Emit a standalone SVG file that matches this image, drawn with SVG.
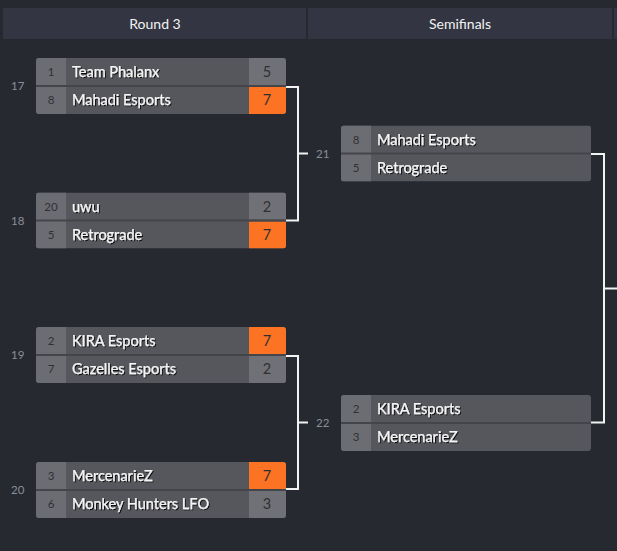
<svg xmlns="http://www.w3.org/2000/svg" width="617" height="551" viewBox="0 0 617 551">
<style>
.hdr{fill:#333642}
.hdrt{font-family:Lato,"Liberation Sans",sans-serif;font-size:14px;fill:#f2f2f2;text-anchor:middle}
.row{fill:#56575d}
.sep{fill:#44454b}
.seedc{fill:#6c6d73}
.sc{fill:#707177}
.win{fill:#fb7323}
.seed{font-family:Lato,"Liberation Sans",sans-serif;font-size:11.5px;fill:#2f3035;text-anchor:middle}
.name{font-family:Lato,"Liberation Sans",sans-serif;font-size:14.5px;fill:#f4f4f4;stroke:#f4f4f4;stroke-width:0.25;filter:url(#sh)}
.score{font-family:Lato,"Liberation Sans",sans-serif;font-size:14.5px;fill:#2e2f34;text-anchor:middle}
.lbl{font-family:Lato,"Liberation Sans",sans-serif;font-size:11.5px;fill:#8b8e97}
.con{fill:none;stroke:#f2f2f2;stroke-width:2}
</style>
<defs>
<clipPath id="card"><rect x="0" y="0" width="250" height="56" rx="3"/></clipPath>
<filter id="sh" x="-10%" y="-30%" width="120%" height="160%"><feDropShadow dx="1" dy="1" stdDeviation="0.6" flood-color="#000" flood-opacity="0.85"/></filter>
</defs>
<rect width="617" height="551" fill="#272931"/>
<g id="headers">
<rect class="hdr" x="3" y="8" width="303" height="31"/>
<text class="hdrt" x="155" y="29">Round 3</text>
<rect class="hdr" x="308" y="8" width="304" height="31"/>
<text class="hdrt" x="460" y="29">Semifinals</text>
<rect class="hdr" x="614" y="8" width="3" height="31"/>
</g>
<g id="connectors">
<path class="con" d="M286 87 H298 V220.5 H286 M298 153.5 H308"/>
<path class="con" d="M286 356 H298 V489 H286 M298 422.5 H308"/>
<path class="con" d="M591 154 H604 V422.5 H591 M604 288.5 H617"/>
</g>
<g id="m17" transform="translate(36,58)">
<g clip-path="url(#card)"><rect class="row" width="250" height="56"/><rect class="seedc" width="30" height="56"/><rect class="sc" x="213" width="37" height="27"/><rect class="win" x="213" y="29" width="37" height="27"/><rect class="sep" y="27" width="250" height="2"/></g>
<text class="seed" x="15" y="18">1</text><text class="name" x="36" y="19">Team Phalanx</text><text class="score" x="231" y="19">5</text>
<text class="seed" x="15" y="46">8</text><text class="name" x="36" y="47">Mahadi Esports</text><text class="score" x="231" y="47">7</text>
<text class="lbl" x="-25" y="32">17</text>
</g>
<g id="m18" transform="translate(36,192.5)">
<g clip-path="url(#card)"><rect class="row" width="250" height="56"/><rect class="seedc" width="30" height="56"/><rect class="sc" x="213" width="37" height="27"/><rect class="win" x="213" y="29" width="37" height="27"/><rect class="sep" y="27" width="250" height="2"/></g>
<text class="seed" x="15" y="18">20</text><text class="name" x="36" y="19">uwu</text><text class="score" x="231" y="19">2</text>
<text class="seed" x="15" y="46">5</text><text class="name" x="36" y="47">Retrograde</text><text class="score" x="231" y="47">7</text>
<text class="lbl" x="-25" y="32">18</text>
</g>
<g id="m19" transform="translate(36,327)">
<g clip-path="url(#card)"><rect class="row" width="250" height="56"/><rect class="seedc" width="30" height="56"/><rect class="win" x="213" width="37" height="27"/><rect class="sc" x="213" y="29" width="37" height="27"/><rect class="sep" y="27" width="250" height="2"/></g>
<text class="seed" x="15" y="18">2</text><text class="name" x="36" y="19">KIRA Esports</text><text class="score" x="231" y="19">7</text>
<text class="seed" x="15" y="46">7</text><text class="name" x="36" y="47">Gazelles Esports</text><text class="score" x="231" y="47">2</text>
<text class="lbl" x="-25" y="32">19</text>
</g>
<g id="m20" transform="translate(36,462)">
<g clip-path="url(#card)"><rect class="row" width="250" height="56"/><rect class="seedc" width="30" height="56"/><rect class="win" x="213" width="37" height="27"/><rect class="sc" x="213" y="29" width="37" height="27"/><rect class="sep" y="27" width="250" height="2"/></g>
<text class="seed" x="15" y="18">3</text><text class="name" x="36" y="19">MercenarieZ</text><text class="score" x="231" y="19">7</text>
<text class="seed" x="15" y="46">6</text><text class="name" x="36" y="47">Monkey Hunters LFO</text><text class="score" x="231" y="47">3</text>
<text class="lbl" x="-25" y="32">20</text>
</g>
<g id="m21" transform="translate(341,125.5)">
<g clip-path="url(#card)"><rect class="row" width="250" height="56"/><rect class="seedc" width="30" height="56"/><rect class="sep" y="27" width="250" height="2"/></g>
<text class="seed" x="15" y="18">8</text><text class="name" x="36" y="19">Mahadi Esports</text>
<text class="seed" x="15" y="46">5</text><text class="name" x="36" y="47">Retrograde</text>
<text class="lbl" x="-25" y="32">21</text>
</g>
<g id="m22" transform="translate(341,395)">
<g clip-path="url(#card)"><rect class="row" width="250" height="56"/><rect class="seedc" width="30" height="56"/><rect class="sep" y="27" width="250" height="2"/></g>
<text class="seed" x="15" y="18">2</text><text class="name" x="36" y="19">KIRA Esports</text>
<text class="seed" x="15" y="46">3</text><text class="name" x="36" y="47">MercenarieZ</text>
<text class="lbl" x="-25" y="32">22</text>
</g>
</svg>
